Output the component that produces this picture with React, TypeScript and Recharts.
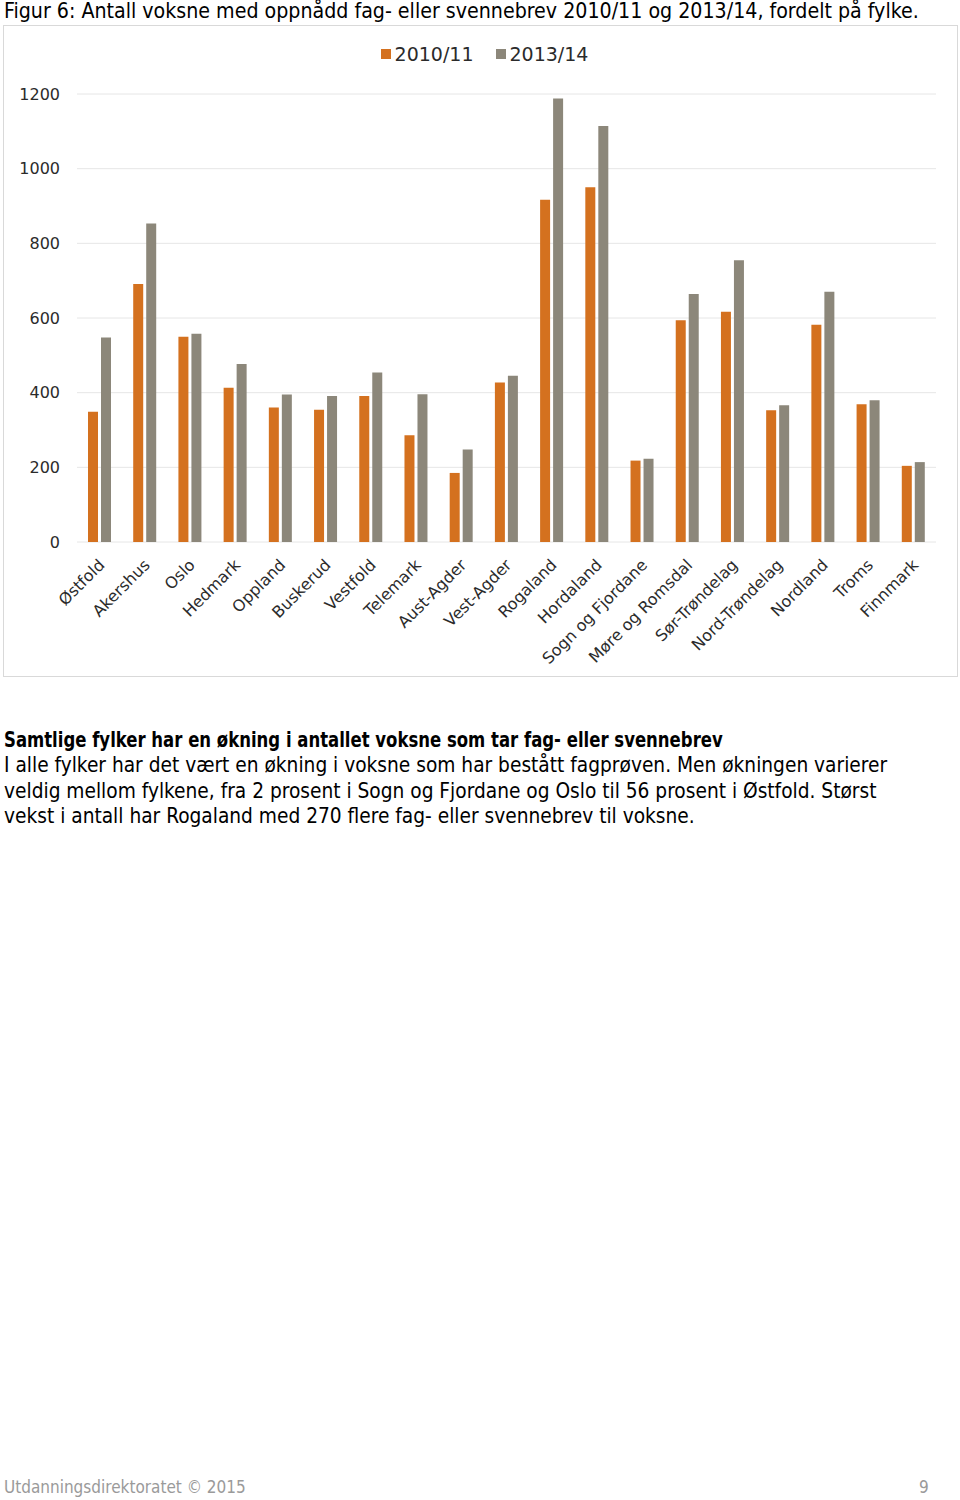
import { BarChart, Bar, XAxis, YAxis, CartesianGrid, Legend } from "recharts";

const fylker = [
  "Østfold", "Akershus", "Oslo", "Hedmark", "Oppland", "Buskerud", "Vestfold",
  "Telemark", "Aust-Agder", "Vest-Agder", "Rogaland", "Hordaland",
  "Sogn og Fjordane", "Møre og Romsdal", "Sør-Trøndelag", "Nord-Trøndelag",
  "Nordland", "Troms", "Finnmark",
];
const v2010 = [349, 691, 550, 413, 360, 354, 391, 286, 185, 427, 917, 950, 218, 594, 617, 353, 582, 369, 204];
const v2013 = [548, 853, 558, 477, 395, 391, 454, 396, 248, 445, 1188, 1114, 223, 664, 755, 366, 670, 380, 214];
const yTicks = [0, 200, 400, 600, 800, 1000, 1200];

const ORANGE = "#d4711f";
const GREY = "#8c877a";
const TEXT = "#2b2b2b";
const narrow = "'DejaVu Sans Condensed', 'Liberation Sans Narrow', sans-serif";
const wide = "'DejaVu Sans', Verdana, sans-serif";

const data = fylker.map((f, i) => ({ fylke: f, a: v2010[i], b: v2013[i] }));

// the page has an 8px body margin; the reference is drawn edge to edge
if (typeof document !== "undefined") document.body.style.margin = "0";

const XTick = (props: any) => {
  const { x, y, payload } = props;
  return (
    <g transform={`translate(${x + 6},${y + 24}) rotate(-45)`}>
      <text x={0} y={0} textAnchor="end" fill={TEXT} fontSize={16} fontFamily={wide}>
        {payload.value}
      </text>
    </g>
  );
};

const LegendBox = () => (
  <div style={{ display: "flex", justifyContent: "center", gap: 22, paddingLeft: 8, fontFamily: wide, fontSize: 19, color: TEXT }}>
    {[["2010/11", ORANGE], ["2013/14", GREY]].map(([name, color]) => (
      <span key={name} style={{ display: "flex", alignItems: "center" }}>
        <span style={{ width: 10, height: 10, background: color, marginRight: 4, display: "inline-block" }} />
        {name}
      </span>
    ))}
  </div>
);

export default function App() {
  return (
    <div style={{ position: "relative", width: 960, height: 1500, background: "#fff", fontFamily: narrow }}>
      <div style={{ position: "absolute", left: 4, top: -2, fontSize: 21.2, color: "#000", whiteSpace: "nowrap" }}>
        Figur 6: Antall voksne med oppnådd fag- eller svennebrev 2010/11 og 2013/14, fordelt på fylke.
      </div>

      <div style={{ position: "absolute", left: 3, top: 25, width: 955, height: 652, border: "1px solid #d9d9d9", boxSizing: "border-box" }}>
        <BarChart width={953} height={650} data={data} margin={{ top: 68, right: 21, bottom: 0, left: 0 }} barSize={10} barGap={3}>
          <CartesianGrid vertical={false} stroke="#e6e6e6" />
          <XAxis
            dataKey="fylke"
            interval={0}
            height={134}
            tickLine={false}
            axisLine={false}
            tickSize={0}
            tickMargin={0}
            tick={<XTick />}
          />
          <YAxis
            width={73}
            domain={[0, 1200]}
            ticks={yTicks}
            tickLine={false}
            axisLine={false}
            tickSize={0}
            tickMargin={17}
            tick={{ fill: TEXT, fontSize: 16, fontFamily: wide }}
          />
          <Legend
            verticalAlign="middle"
            content={<LegendBox />}
            wrapperStyle={{ top: 17, left: 0, width: "100%" }}
          />
          <Bar dataKey="a" name="2010/11" fill={ORANGE} isAnimationActive={false} />
          <Bar dataKey="b" name="2013/14" fill={GREY} isAnimationActive={false} />
        </BarChart>
      </div>

      <div style={{ position: "absolute", left: 4, top: 728, width: 940, fontSize: 20.7, lineHeight: "25.3px", color: "#000" }}>
        <div style={{ fontWeight: "bold", transform: "scaleX(0.887)", transformOrigin: "left", whiteSpace: "nowrap" }}>
          Samtlige fylker har en økning i antallet voksne som tar fag- eller svennebrev
        </div>
        <div>
          I alle fylker har det vært en økning i voksne som har bestått fagprøven. Men økningen varierer
          <br />
          veldig mellom fylkene, fra 2 prosent i Sogn og Fjordane og Oslo til 56 prosent i Østfold. Størst
          <br />
          vekst i antall har Rogaland med 270 flere fag- eller svennebrev til voksne.
        </div>
      </div>

      <div style={{ position: "absolute", left: 4, top: 1477, fontSize: 17, color: "#9a9a9a" }}>
        Utdanningsdirektoratet © 2015
      </div>
      <div style={{ position: "absolute", left: 919, top: 1477, fontSize: 17, color: "#9a9a9a" }}>9</div>
    </div>
  );
}
